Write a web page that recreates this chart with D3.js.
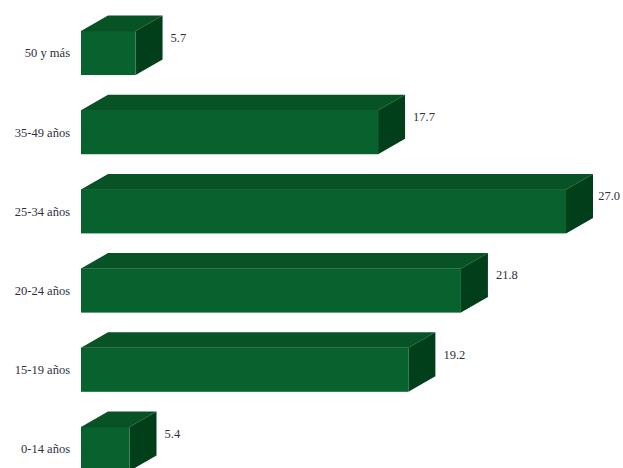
<!DOCTYPE html>
<html>
<head>
<meta charset="utf-8">
<script src="https://cdn.jsdelivr.net/npm/d3@7"></script>
<style>
  html, body { margin: 0; padding: 0; background: #fff; }
  svg { display: block; }
  text { font-family: "Liberation Serif", "Times New Roman", serif; fill: #2f2f3d; }
</style>
</head>
<body>
<div id="chart"></div>
<script>
// Age groups, top to bottom, and their shares (%)
const categories = ["50 y más", "35-49 años", "25-34 años", "20-24 años", "15-19 años", "0-14 años"];
const values = [5.7, 17.7, 27.0, 21.8, 19.2, 5.4];
const valueLabels = ["5.7", "17.7", "27.0", "21.8", "19.2", "5.4"];

const width = 623, height = 468;
const depthX = 27, depthY = 15.5;   // 3D extrusion offset
const colors = { front: "#07622e", top: "#075326", side: "#003f1a" };

const svg = d3.select("#chart").append("svg")
  .attr("width", width).attr("height", height);

// value axis starts at 3, as the bars are drawn from that base
const x = d3.scaleLinear().domain([3, 27]).range([81, 566]);
const y = d3.scaleBand().domain(categories).range([31, 471]).paddingInner(0.444).paddingOuter(0);

const rows = categories.map((c, i) => ({ cat: c, v: values[i], label: valueLabels[i] }));

const g = svg.selectAll("g.bar").data(rows).join("g").attr("class", "bar");

// top face
g.append("path")
  .attr("fill", colors.top)
  .attr("d", d => {
    const x0 = x.range()[0], x1 = x(d.v), y0 = y(d.cat);
    return `M${x0},${y0}L${x0 + depthX},${y0 - depthY}L${x1 + depthX},${y0 - depthY}L${x1},${y0}Z`;
  });

// right side face
g.append("path")
  .attr("fill", colors.side)
  .attr("d", d => {
    const x1 = x(d.v), y0 = y(d.cat), h = y.bandwidth();
    return `M${x1},${y0}L${x1 + depthX},${y0 - depthY}L${x1 + depthX},${y0 - depthY + h}L${x1},${y0 + h}Z`;
  });

// front face
g.append("rect")
  .attr("fill", colors.front)
  .attr("x", x.range()[0])
  .attr("y", d => y(d.cat))
  .attr("width", d => x(d.v) - x.range()[0])
  .attr("height", y.bandwidth());

// thin edge on the front face's upper border
g.append("line")
  .attr("stroke", "#0b5a2b").attr("stroke-width", 1)
  .attr("x1", x.range()[0]).attr("x2", d => x(d.v))
  .attr("y1", d => y(d.cat) + 0.5).attr("y2", d => y(d.cat) + 0.5);

// category labels
g.append("text")
  .attr("x", 70)
  .attr("y", d => y(d.cat) + y.bandwidth() / 2)
  .attr("dy", "0.35em")
  .attr("text-anchor", "end")
  .attr("font-size", 12.5)
  .text(d => d.cat);

// value labels beside the side face, kept inside the canvas
g.append("text")
  .attr("y", d => y(d.cat) - depthY + y.bandwidth() / 2)
  .attr("dy", "0.35em")
  .attr("font-size", 12.5)
  .text(d => d.label)
  .attr("x", function (d) {
    const w = this.getComputedTextLength();
    return Math.min(x(d.v) + depthX + 8, width - w - 3);
  });
</script>
</body>
</html>
